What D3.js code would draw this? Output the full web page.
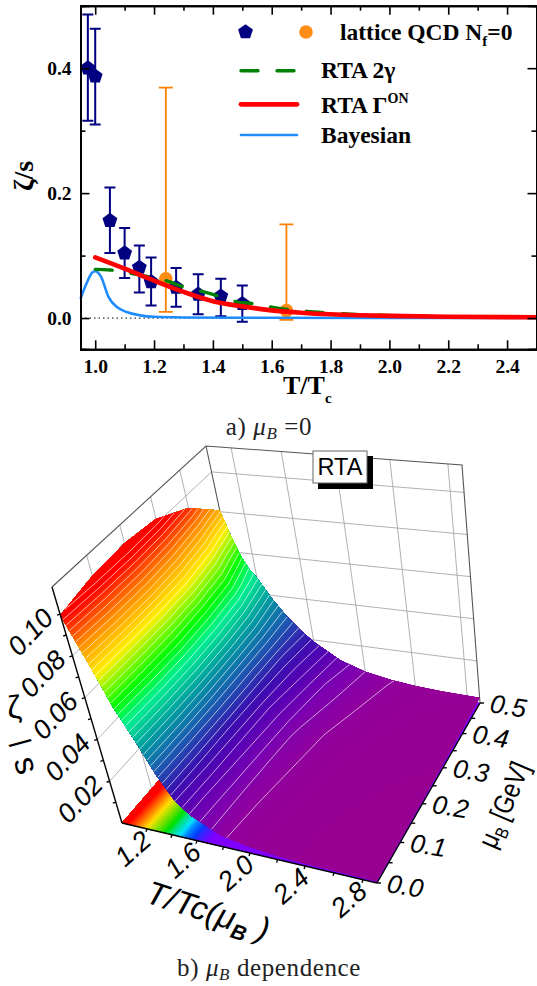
<!DOCTYPE html>
<html>
<head>
<meta charset="utf-8">
<script src="https://cdn.jsdelivr.net/npm/d3@7"></script>
<style>
body { margin: 0; background: #fff; }
svg { display: block; }
.serif { font-family: "Liberation Serif", serif; font-weight: bold; fill: #000; }
.sans { font-family: "Liberation Sans", sans-serif; font-style: italic; fill: #000; }
.cap { font-family: "Liberation Serif", serif; fill: #222; font-size: 25px; letter-spacing: 0.6px; }
</style>
</head>
<body>
<div id="chart"></div>
<script>
// top panel data
var latticeT = [0.975, 1.0, 1.05, 1.1, 1.15, 1.19, 1.275, 1.35, 1.427, 1.5];
var latticeV = [0.40, 0.387, 0.156, 0.104, 0.081, 0.058, 0.049, 0.038, 0.035, 0.023];
var latticeHi = [0.486, 0.463, 0.209, 0.144, 0.116, 0.097, 0.08, 0.07, 0.063, 0.052];
var latticeLo = [0.316, 0.31, 0.104, 0.064, 0.041, 0.02, 0.018, 0.006, 0.003, -0.006];

var orangeT = [1.24, 1.65];
var orangeV = [0.063, 0.012];
var orangeHi = [0.369, 0.15];
var orangeLo = [0.01, -0.003];

var redT = [1.0, 1.1, 1.2, 1.3, 1.4, 1.5, 1.6, 1.7, 1.8, 1.9, 2.0, 2.2, 2.5];
var redV = [0.097, 0.079, 0.06, 0.042, 0.027, 0.0187, 0.0123, 0.0086, 0.006, 0.0045, 0.0035, 0.0022, 0.0012];

var greenT = [1.0, 1.05, 1.15, 1.24, 1.3, 1.36, 1.42, 1.48, 1.54, 1.6, 1.66, 1.72, 1.78, 1.9, 2.1, 2.5];
var greenV = [0.078, 0.077, 0.069, 0.06, 0.05, 0.043, 0.035, 0.026, 0.023, 0.0176, 0.0136, 0.0107, 0.0086, 0.0055, 0.003, 0.0012];

var blueT = [0.95, 0.97, 0.99, 1.0, 1.02, 1.045, 1.074, 1.107, 1.153, 1.2, 1.3, 1.5, 2.0, 2.5];
var blueV = [0.031, 0.055, 0.073, 0.075, 0.066, 0.034, 0.0176, 0.0096, 0.0043, 0.002, 0.001, 0.0005, 0.0002, 0.0];

var xMajor = [1.0, 1.2, 1.4, 1.6, 1.8, 2.0, 2.2, 2.4];
var xMinor = [1.1, 1.3, 1.5, 1.7, 1.9, 2.1, 2.3, 2.5];
var yMajor = [0.0, 0.2, 0.4];
var yMinor = [0.1, 0.3, 0.5];

// lower panel data: zeta/s on a T, mu grid
var gridT = [1.0, 1.05, 1.1, 1.15, 1.2, 1.3, 1.4, 1.5, 1.6, 1.8, 2.0, 2.2, 2.4, 2.6, 2.9];
var gridMu = [0.0, 0.1, 0.2, 0.3, 0.4, 0.5];
var zetaMu0 = [0.0995, 0.089, 0.079, 0.069, 0.0585, 0.044, 0.0285, 0.0175, 0.012, 0.0055, 0.0032, 0.0018, 0.0012, 0.001, 0.0008];
var zetaMu1 = [0.103, 0.092, 0.082, 0.071, 0.061, 0.046, 0.03, 0.019, 0.013, 0.006, 0.0036, 0.0021, 0.0014, 0.0012, 0.001];
var zetaMu2 = [0.104, 0.093, 0.083, 0.072, 0.062, 0.047, 0.031, 0.02, 0.014, 0.0068, 0.0042, 0.0026, 0.0018, 0.0014, 0.0012];
var zetaMu3 = [0.102, 0.09, 0.08, 0.07, 0.06, 0.046, 0.031, 0.021, 0.015, 0.0078, 0.0049, 0.0032, 0.0023, 0.0018, 0.0015];
var zetaMu4 = [0.094, 0.082, 0.072, 0.063, 0.056, 0.043, 0.031, 0.022, 0.017, 0.0095, 0.0061, 0.0041, 0.0029, 0.0023, 0.002];
var zetaMu5 = [0.0806, 0.068, 0.058, 0.052, 0.048, 0.038, 0.03, 0.024, 0.019, 0.0115, 0.0075, 0.0052, 0.0038, 0.003, 0.0025];

var tTicks3d = [1.2, 1.6, 2.0, 2.4, 2.8];
var muTicks3d = [0.0, 0.1, 0.2, 0.3, 0.4, 0.5];
var zTicks3d = [0.02, 0.04, 0.06, 0.08, 0.10];

var w = 537;
var h = 986;
var svg = d3.select("#chart").append("svg").attr("width", w).attr("height", h);

function drawTopPanel() {
    var x = d3.scaleLinear().domain([0.95, 2.5]).range([80.5, 536.5]);
    var y = d3.scaleLinear().domain([-0.05, 0.5]).range([349.3, 5.7]);
    var g = svg.append("g");

    // zero line
    g.append("line").attr("x1", x(0.95)).attr("x2", x(2.5)).attr("y1", y(0)).attr("y2", y(0))
        .attr("stroke", "#000").attr("stroke-width", 1).attr("stroke-dasharray", "1.5,3");

    var lineFn = d3.line().curve(d3.curveMonotoneX)
        .x(function(d) { return x(d[0]); })
        .y(function(d) { return y(d[1]); });

    // orange points
    orangeT.forEach(function(t, i) {
        errorBar(g, x(t), y(orangeLo[i]), y(orangeHi[i]), "#ff8000", 1.8, 7);
    });
    g.selectAll("circle.o").data(orangeT).enter().append("circle")
        .attr("cx", function(d) { return x(d); })
        .attr("cy", function(d, i) { return y(orangeV[i]); })
        .attr("r", 6.8).attr("fill", "#ff8c14");

    // navy points
    latticeT.forEach(function(t, i) {
        errorBar(g, x(t), y(latticeLo[i]), y(latticeHi[i]), "#000080", 2, 5.5);
    });
    g.selectAll("path.p").data(latticeT).enter().append("path")
        .attr("d", pentagon(7.8))
        .attr("transform", function(d, i) { return "translate(" + x(d) + "," + y(latticeV[i]) + ")"; })
        .attr("fill", "#000080");

    // curves
    g.append("path").datum(d3.zip(blueT, blueV)).attr("d", lineFn)
        .attr("fill", "none").attr("stroke", "#1e8cff").attr("stroke-width", 2.6);
    g.append("path").datum(d3.zip(greenT, greenV)).attr("d", lineFn)
        .attr("fill", "none").attr("stroke", "#008000").attr("stroke-width", 3.4)
        .attr("stroke-linecap", "round").attr("stroke-dasharray", "17,19");
    g.append("path").datum(d3.zip(redT, redV)).attr("d", lineFn)
        .attr("fill", "none").attr("stroke", "#ff0000").attr("stroke-width", 4.6).attr("stroke-linecap", "round");

    // frame and ticks
    var bottom = g.append("g").attr("transform", "translate(0," + y(-0.05) + ")");
    bottom.call(d3.axisBottom(x).tickValues(xMajor).tickSize(-9).tickPadding(10).tickFormat(d3.format(".1f")));
    bottom.append("g").call(d3.axisBottom(x).tickValues(xMinor).tickSize(-5).tickFormat(""));
    var top = g.append("g").attr("transform", "translate(0," + y(0.5) + ")");
    top.call(d3.axisTop(x).tickValues(xMajor).tickSize(-9).tickFormat(""));
    top.append("g").call(d3.axisTop(x).tickValues(xMinor).tickSize(-5).tickFormat(""));
    var left = g.append("g").attr("transform", "translate(" + x(0.95) + ",0)");
    left.call(d3.axisLeft(y).tickValues(yMajor).tickSize(-9).tickPadding(9).tickFormat(d3.format(".1f")));
    left.append("g").call(d3.axisLeft(y).tickValues(yMinor).tickSize(-5).tickFormat(""));
    var right = g.append("g").attr("transform", "translate(" + x(2.5) + ",0)");
    right.call(d3.axisRight(y).tickValues(yMajor).tickSize(-9).tickFormat(""));
    right.append("g").call(d3.axisRight(y).tickValues(yMinor).tickSize(-5).tickFormat(""));
    g.selectAll(".domain").attr("stroke", "#000").attr("stroke-width", 2);
    g.selectAll(".tick line").attr("stroke", "#000").attr("stroke-width", 1.6);
    g.selectAll(".tick text").attr("class", "serif").style("font-size", "19.5px")
        .style("font-family", "Liberation Serif").style("font-weight", "bold").attr("fill", "#000");

    // axis titles
    var xt = g.append("text").attr("class", "serif").attr("x", 283).attr("y", 394).style("font-size", "26px");
    xt.append("tspan").text("T/T");
    xt.append("tspan").attr("dy", 9).style("font-size", "15px").text("c");
    g.append("text").attr("class", "serif").attr("transform", "translate(33,191) rotate(-90)")
        .style("font-size", "28px").text("ζ/s");

    // legend
    g.append("path").attr("d", pentagon(7.8)).attr("transform", "translate(245.5,32)").attr("fill", "#000080");
    g.append("circle").attr("cx", 306).attr("cy", 32).attr("r", 6.8).attr("fill", "#ff8c14");
    var t1 = g.append("text").attr("class", "serif").attr("x", 340).attr("y", 40).style("font-size", "23.5px");
    t1.append("tspan").text("lattice QCD N");
    t1.append("tspan").attr("dy", 6).style("font-size", "15px").text("f");
    t1.append("tspan").attr("dy", -6).text("=0");

    g.append("line").attr("x1", 241).attr("x2", 296).attr("y1", 70.7).attr("y2", 70.7)
        .attr("stroke", "#008000").attr("stroke-width", 3.4).attr("stroke-linecap", "round").attr("stroke-dasharray", "17,19");
    g.append("text").attr("class", "serif").attr("x", 321).attr("y", 78).style("font-size", "23.5px").text("RTA 2γ");

    g.append("line").attr("x1", 241).attr("x2", 297).attr("y1", 104.3).attr("y2", 104.3)
        .attr("stroke", "#ff0000").attr("stroke-width", 4.8).attr("stroke-linecap", "round");
    var t2 = g.append("text").attr("class", "serif").attr("x", 321).attr("y", 112.7).style("font-size", "23.5px");
    t2.append("tspan").text("RTA Γ");
    t2.append("tspan").attr("dy", -10).style("font-size", "14px").text("ON");

    g.append("line").attr("x1", 241).attr("x2", 297).attr("y1", 135).attr("y2", 135)
        .attr("stroke", "#1e8cff").attr("stroke-width", 2.6).attr("stroke-linecap", "round");
    g.append("text").attr("class", "serif").attr("x", 321).attr("y", 142.7).style("font-size", "23.5px").text("Bayesian");

    caption(435, "a) ", " =0");
}

function errorBar(g, px, y0, y1, color, sw, cap) {
    var path = d3.path();
    path.moveTo(px, y0); path.lineTo(px, y1);
    path.moveTo(px - cap, y0); path.lineTo(px + cap, y0);
    path.moveTo(px - cap, y1); path.lineTo(px + cap, y1);
    g.append("path").attr("d", path.toString()).attr("stroke", color).attr("stroke-width", sw).attr("fill", "none");
}

function pentagon(r) {
    var pts = d3.range(5).map(function(i) {
        return d3.pointRadial(i * 2 * Math.PI / 5, r);
    });
    return d3.line()(pts) + "Z";
}

function caption(py, before, after) {
    var t = svg.append("text").attr("class", "cap").attr("x", 269).attr("y", py).attr("text-anchor", "middle");
    t.append("tspan").text(before);
    t.append("tspan").style("font-style", "italic").text("μ");
    t.append("tspan").style("font-style", "italic").style("font-size", "17px").attr("dy", 4).text("B");
    t.append("tspan").attr("dy", -4).text(after);
}

function drawSurfacePanel() {
    // box corners on the page
    var floorFL = [122, 823], floorFR = [377, 883], floorBR = [480, 703], floorBL = [254, 671];
    var roofFL = [52, 587], roofFR = [342, 643], roofBR = [462, 465], roofBL = [206, 446];

    var tScale = d3.scaleLinear().domain([1.0, 1.2, 1.6, 2.0, 2.4, 2.8, 2.9]).range([0, 0.098, 0.294, 0.502, 0.718, 0.945, 1]);
    var muScale = d3.scaleLinear().domain(gridMu).range([0, 0.225, 0.44, 0.64, 0.83, 1]);
    var zScale = d3.scaleLinear().domain([0, 0.113]).range([0, 1]);

    function bilinear(a, b, c, d, u, v) {
        var p = a[0] * (1 - u) * (1 - v) + b[0] * u * (1 - v) + c[0] * u * v + d[0] * (1 - u) * v;
        var q = a[1] * (1 - u) * (1 - v) + b[1] * u * (1 - v) + c[1] * u * v + d[1] * (1 - u) * v;
        return [p, q];
    }
    function project(t, mu, z) {
        var u = tScale(t), v = muScale(mu), f = zScale(z);
        var lo = bilinear(floorFL, floorFR, floorBR, floorBL, u, v);
        var hi = bilinear(roofFL, roofFR, roofBR, roofBL, u, v);
        return [lo[0] + f * (hi[0] - lo[0]), lo[1] + f * (hi[1] - lo[1])];
    }

    var g = svg.append("g");
    var line = d3.line();
    var zTop = zScale.domain()[1];

    // grey wall grid
    function gridLine(pts) {
        g.append("path").attr("d", line(pts)).attr("fill", "none").attr("stroke", "#a8a8a8").attr("stroke-width", 0.9);
    }
    tTicks3d.forEach(function(t) {
        gridLine([project(t, 0.5, 0), project(t, 0.5, zTop)]);
        gridLine([project(t, 0, 0), project(t, 0.5, 0)]);
    });
    muTicks3d.slice(1, 5).forEach(function(m) {
        gridLine([project(1, m, 0), project(1, m, zTop)]);
        gridLine([project(1, m, 0), project(2.9, m, 0)]);
    });
    zTicks3d.forEach(function(z) {
        gridLine([project(1, 0, z), project(1, 0.5, z), project(2.9, 0.5, z)]);
    });
    g.append("path").attr("d", line([project(1, 0, zTop), project(1, 0.5, zTop), project(2.9, 0.5, zTop), project(2.9, 0.5, 0)]))
        .attr("fill", "none").attr("stroke", "#555").attr("stroke-width", 1.1);
    g.append("path").attr("d", line([project(1, 0.5, zTop), project(1, 0.5, 0)]))
        .attr("fill", "none").attr("stroke", "#555").attr("stroke-width", 1.1);

    // surface through d3.contours, indices mapped back to T and mu
    var nT = gridT.length, nMu = gridMu.length;
    var values = d3.merge([zetaMu0, zetaMu1, zetaMu2, zetaMu3, zetaMu4, zetaMu5]);
    var tOfIndex = d3.scaleLinear().domain(d3.range(nT)).range(gridT);
    var muOfIndex = d3.scaleLinear().domain(d3.range(nMu)).range(gridMu);

    function zAt(a, b) {
        var i = Math.min(Math.floor(a), nT - 2), j = Math.min(Math.floor(b), nMu - 2);
        var s = a - i, r = b - j;
        return values[j * nT + i] * (1 - s) * (1 - r) + values[j * nT + i + 1] * s * (1 - r) +
            values[(j + 1) * nT + i] * (1 - s) * r + values[(j + 1) * nT + i + 1] * s * r;
    }
    function toPage(pt, flat) {
        var a = Math.max(0, Math.min(nT - 1, pt[0] - 0.5));
        var b = Math.max(0, Math.min(nMu - 1, pt[1] - 0.5));
        return project(tOfIndex(a), muOfIndex(b), flat ? 0 : zAt(a, b));
    }
    function onBorder(pt) {
        return pt[0] <= 0.5 || pt[0] >= nT - 0.5 || pt[1] <= 0.5 || pt[1] >= nMu - 0.5;
    }
    function fillPath(contour, flat) {
        var out = "";
        contour.coordinates.forEach(function(poly) {
            poly.forEach(function(ring) {
                out += line(ring.map(function(p) { return toPage(p, flat); })) + "Z";
            });
        });
        return out;
    }
    function strokePath(contour) {
        var out = "";
        contour.coordinates.forEach(function(poly) {
            poly.forEach(function(ring) {
                var piece = [];
                ring.forEach(function(p, i) {
                    if (i > 0 && onBorder(p) && onBorder(ring[i - 1])) {
                        if (piece.length > 1) out += line(piece);
                        piece = [];
                    }
                    piece.push(toPage(p, false));
                });
                if (piece.length > 1) out += line(piece);
            });
        });
        return out;
    }

    var floorColor = d3.scaleLinear()
        .domain([0, 0.009, 0.014, 0.022, 0.037, 0.06, 0.09])
        .range(["#7f00ff", "#7f00ff", "#0040ff", "#00e0ff", "#00e000", "#ffe000", "#ff0000"]);
    var surfColor = d3.scaleLinear()
        .domain([0, 0.004, 0.009, 0.014, 0.02, 0.03, 0.04, 0.05, 0.058, 0.072, 0.085, 0.097])
        .range(["#990090", "#94009a", "#7a00b0", "#5a00b4", "#3a10b0", "#1a60b0", "#00a0a0", "#00f090", "#00ff00", "#fff000", "#ff8c00", "#ff0a00"]);

    var fillLevels = d3.range(0, 0.105, 0.0005);
    var bands = d3.contours().size([nT, nMu]).smooth(true).thresholds(fillLevels)(values);

    // projection on the floor first
    g.append("g").selectAll("path").data(bands).enter().append("path")
        .attr("d", function(d) { return fillPath(d, true); })
        .attr("fill", function(d) { return floorColor(d.value); })
        .attr("fill-rule", "evenodd");
    // then the surface
    g.append("g").selectAll("path").data(bands).enter().append("path")
        .attr("d", function(d) { return fillPath(d, false); })
        .attr("fill", function(d) { return surfColor(d.value); })
        .attr("fill-rule", "evenodd");

    var lineLevels = d3.range(0.005, 0.101, 0.0025);
    var isolines = d3.contours().size([nT, nMu]).smooth(true).thresholds(lineLevels)(values);
    g.append("g").selectAll("path").data(isolines).enter().append("path")
        .attr("d", strokePath)
        .attr("fill", "none").attr("stroke", "#fff").attr("stroke-opacity", 0.8).attr("stroke-width", 0.8);

    // black axes with ticks
    function axisLine(a, b) {
        g.append("path").attr("d", line([a, b])).attr("stroke", "#000").attr("stroke-width", 1.4).attr("fill", "none");
    }
    axisLine(project(1, 0, zTop), project(1, 0, 0));
    axisLine(project(1, 0, 0), project(2.9, 0, 0));
    axisLine(project(2.9, 0, 0), project(2.9, 0.5, 0));

    function tick(p, dx, dy) {
        axisLine(p, [p[0] + dx, p[1] + dy]);
    }
    var tAll = d3.range(1.2, 2.81, 0.2);
    tAll.forEach(function(t) { tick(project(t, 0, 0), -1, 3); });
    d3.range(0, 0.51, 0.05).forEach(function(m) { tick(project(2.9, m, 0), 4, 0); });
    d3.range(0.01, 0.105, 0.01).forEach(function(z) { tick(project(1, 0, z), -3, 1); });

    zTicks3d.forEach(function(z) {
        var p = project(1, 0, z);
        svg.append("text").attr("class", "sans").style("font-size", "27px").attr("text-anchor", "end")
            .attr("transform", "translate(" + (p[0] - 5) + "," + (p[1] + 5) + ") rotate(-47)")
            .text(d3.format(".2f")(z));
    });
    tTicks3d.forEach(function(t) {
        var p = project(t, 0, 0);
        svg.append("text").attr("class", "sans").style("font-size", "27px").attr("text-anchor", "end")
            .attr("transform", "translate(" + (p[0] + 6) + "," + (p[1] + 14) + ") rotate(-42)")
            .text(d3.format(".1f")(t));
    });
    muTicks3d.forEach(function(m) {
        var p = project(2.9, m, 0);
        svg.append("text").attr("class", "sans").style("font-size", "26px")
            .attr("transform", "translate(" + (p[0] + 9) + "," + (p[1] + 9) + ") rotate(9)")
            .text(d3.format(".1f")(m));
    });

    // axis titles
    var tt = svg.append("text").attr("class", "sans").style("font-size", "33px")
        .attr("transform", "translate(144,902) rotate(18)");
    tt.append("tspan").text("T/Tc(μ");
    tt.append("tspan").attr("dy", 7).style("font-size", "21px").style("font-weight", "bold").text("B");
    tt.append("tspan").attr("dy", -7).text(" )");

    var mt = svg.append("text").style("font-family", "Liberation Sans").style("font-size", "28px")
        .attr("transform", "translate(495,850) rotate(-67) scale(0.84,1)");
    mt.append("tspan").text("μ");
    mt.append("tspan").attr("dy", 6).style("font-size", "18px").text("B");
    mt.append("tspan").attr("dy", -6).text(" [GeV]");

    // zeta over s along the left, placed piece by piece
    function slanted(txt, px, py, size, angle) {
        svg.append("text").style("font-family", "Liberation Sans").style("font-size", size + "px")
            .attr("text-anchor", "middle").attr("dominant-baseline", "central")
            .attr("transform", "translate(" + px + "," + py + ") rotate(" + angle + ")")
            .text(txt);
    }
    slanted("ζ", 14, 707, 32, -6);
    slanted("/", 20, 743, 30, 60);
    slanted("s", 27, 765, 33, 73);

    // RTA box
    svg.append("rect").attr("x", 318).attr("y", 456).attr("width", 55).attr("height", 33).attr("fill", "#000");
    svg.append("rect").attr("x", 313).attr("y", 451).attr("width", 54).attr("height", 32)
        .attr("fill", "#fff").attr("stroke", "#666").attr("stroke-width", 1);
    svg.append("text").style("font-family", "Liberation Sans").style("font-size", "23.5px")
        .attr("x", 340).attr("y", 475).attr("text-anchor", "middle").text("RTA");

    caption(976, "b) ", " dependence");
}

drawTopPanel();
drawSurfacePanel();
</script>
</body>
</html>
